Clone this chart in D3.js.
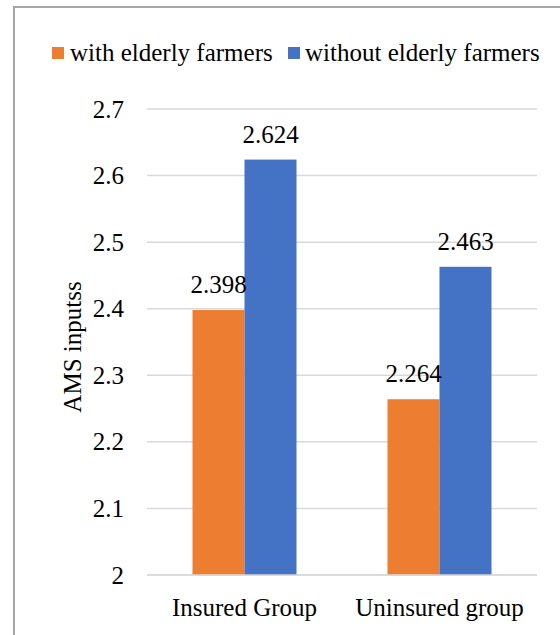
<!DOCTYPE html>
<html>
<head>
<meta charset="utf-8">
<script src="https://cdn.jsdelivr.net/npm/d3@7"></script>
<style>
  html, body { margin: 0; padding: 0; background: #fff; }
  svg { display: block; }
  svg text { font-family: 'Liberation Serif', Tinos, 'Times New Roman', Times, 'DejaVu Serif', serif !important; fill: #000; }
</style>
</head>
<body>
<svg id="chart" width="560" height="635"></svg>
<script>
// Chart data
const categories = ["Insured Group", "Uninsured group"];
const seriesNames = ["with elderly farmers", "without elderly farmers"];
const seriesColors = ["#ED7D31", "#4472C4"];
const withElderly = [2.398, 2.264];
const withoutElderly = [2.624, 2.463];
const yTicks = [2, 2.1, 2.2, 2.3, 2.4, 2.5, 2.6, 2.7];
const yTitle = "AMS inputss";

const serif = "'Liberation Serif', Tinos, 'Times New Roman', Times, 'DejaVu Serif', serif";

const seriesValues = [withElderly, withoutElderly];
const rows = categories.map((c, i) => ({
  category: c,
  values: seriesValues.map((vals, s) => ({ series: s, value: vals[i] }))
}));

const svg = d3.select("#chart").attr("font-family", serif);
const W = 560, H = 635;
const margin = { left: 147, right: 23, top: 109, bottom: 60 };
const plotW = W - margin.left - margin.right;
const plotH = H - margin.top - margin.bottom;
const fontSize = 25;

// Outer chart frame
svg.append("rect")
  .attr("x", 14).attr("y", 7)
  .attr("width", W + 10).attr("height", H + 10)
  .attr("fill", "none")
  .attr("stroke", "#a6a6a6")
  .attr("stroke-width", 2);

const g = svg.append("g").attr("transform", `translate(${margin.left},${margin.top})`);

const y = d3.scaleLinear().domain([2, 2.7]).range([plotH, 0]);
const x0 = d3.scaleBand().domain(categories).range([0, plotW]).paddingInner(0).paddingOuter(0);
const groupInner = 104 / 195; // bar pair occupies this share of each band
const x1 = d3.scaleBand().domain(d3.range(seriesNames.length))
  .range([x0.bandwidth() * (1 - groupInner) / 2, x0.bandwidth() * (1 + groupInner) / 2]);

// Gridlines
g.selectAll("line.grid")
  .data(yTicks)
  .join("line")
  .attr("class", "grid")
  .attr("x1", 0).attr("x2", plotW)
  .attr("y1", d => y(d)).attr("y2", d => y(d))
  .attr("stroke", "#d9d9d9")
  .attr("stroke-width", 1.5);

// Y axis tick labels
const yAxis = d3.axisLeft(y).tickValues(yTicks).tickSize(0).tickPadding(23)
  .tickFormat(d => d3.format("")(+d.toFixed(1)));
const yAxisG = g.append("g").call(yAxis)
  .attr("font-family", serif).attr("font-size", fontSize);
yAxisG.select(".domain").remove();
yAxisG.selectAll("text").attr("fill", "#000");

// Bars
const groups = g.selectAll("g.cat")
  .data(rows)
  .join("g")
  .attr("class", "cat")
  .attr("transform", d => `translate(${x0(d.category)},0)`);

groups.selectAll("rect")
  .data(d => d.values)
  .join("rect")
  .attr("x", d => x1(d.series))
  .attr("width", x1.bandwidth())
  .attr("y", d => y(d.value))
  .attr("height", d => plotH - y(d.value))
  .attr("fill", d => seriesColors[d.series]);

// Value labels
groups.selectAll("text.val")
  .data(d => d.values)
  .join("text")
  .attr("class", "val")
  .attr("x", d => x1(d.series) + x1.bandwidth() / 2)
  .attr("y", d => y(d.value) - 17)
  .attr("text-anchor", "middle")
  .attr("font-size", fontSize)
  .text(d => d3.format(".3f")(d.value));

// X axis baseline
g.append("line")
  .attr("x1", 0).attr("x2", plotW)
  .attr("y1", plotH).attr("y2", plotH)
  .attr("stroke", "#d9d9d9")
  .attr("stroke-width", 1.5);

// Category labels
const xAxis = d3.axisBottom(x0).tickSize(0).tickPadding(0);
const xAxisG = g.append("g").attr("transform", `translate(0,${plotH})`).call(xAxis)
  .attr("font-family", serif).attr("font-size", fontSize);
xAxisG.select(".domain").remove();
xAxisG.selectAll("text")
  .attr("dy", null)
  .attr("y", 41)
  .attr("fill", "#000");

// Y axis title
svg.append("text")
  .attr("transform", `translate(81,${margin.top + plotH / 2 + 5}) rotate(-90)`)
  .attr("text-anchor", "middle")
  .attr("font-size", fontSize)
  .text(yTitle);

// Legend
const legendItems = [
  { x: 52, tx: 70 },
  { x: 288, tx: 305 }
];
const legend = svg.append("g");
seriesNames.forEach((name, i) => {
  legend.append("rect")
    .attr("x", legendItems[i].x).attr("y", 47)
    .attr("width", 12).attr("height", 12)
    .attr("fill", seriesColors[i]);
  legend.append("text")
    .attr("x", legendItems[i].tx).attr("y", 61)
    .attr("font-size", fontSize)
    .text(name);
});
</script>
</body>
</html>
